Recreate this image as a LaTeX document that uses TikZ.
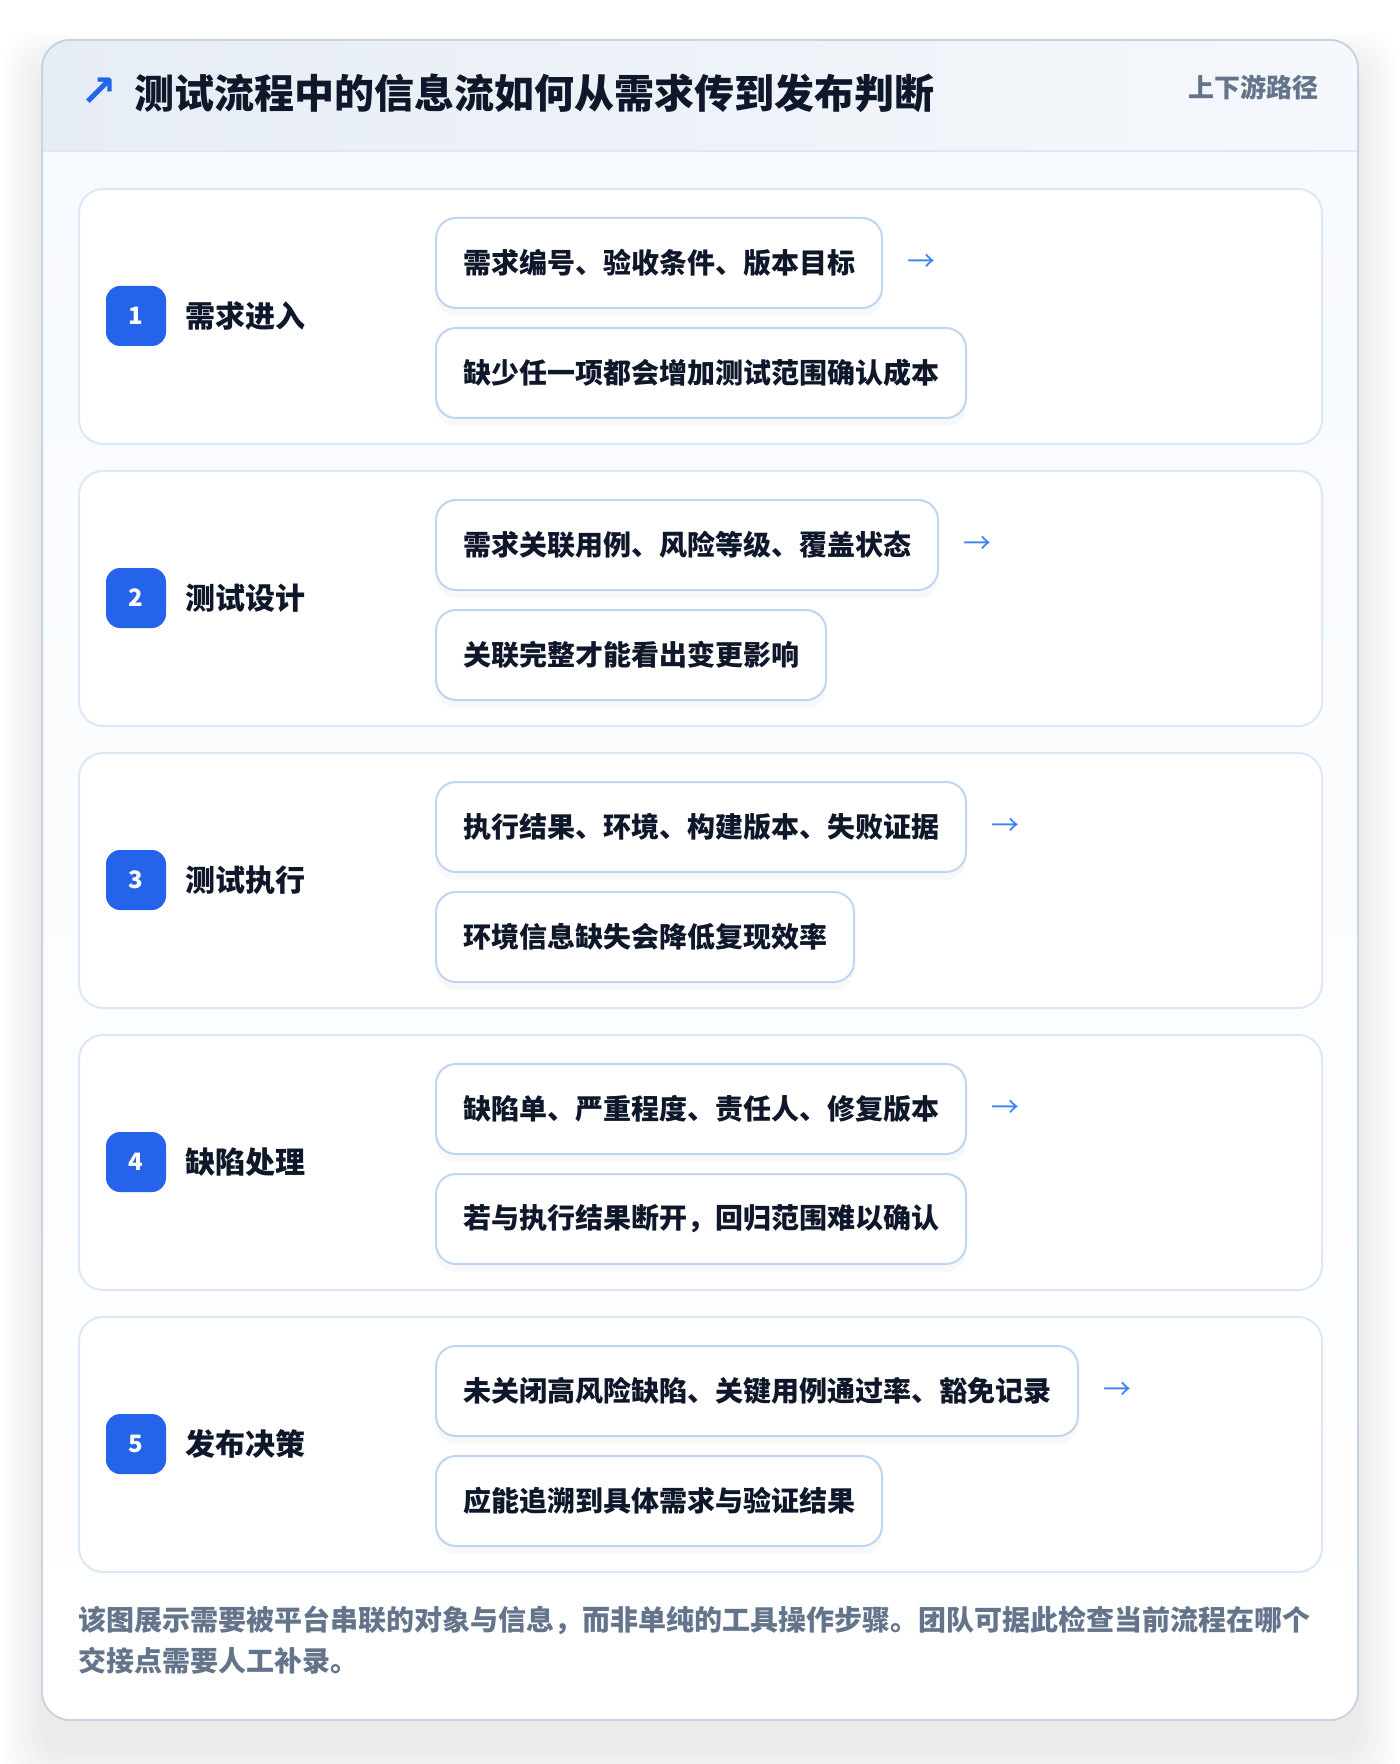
\documentclass[tikz,border=0pt]{standalone}
\usepackage{fontspec}
\setmainfont{Noto Sans CJK SC}
\newfontfamily\symfont{DejaVu Sans}
\usetikzlibrary{positioning,shadows}

\definecolor{ink}{HTML}{0F172A}
\definecolor{badgeblue}{HTML}{2563EB}
\definecolor{arrowblue}{HTML}{3B82F6}
\definecolor{mutedgray}{HTML}{64748B}
\definecolor{cardline}{HTML}{C9D4E2}
\definecolor{hdrleft}{HTML}{E7EDF5}
\definecolor{hdrright}{HTML}{F5F8FC}
\definecolor{hdrrule}{HTML}{DCE8F6}
\definecolor{bodybg}{HTML}{F7FAFE}
\definecolor{stepline}{HTML}{DCE8F8}
\definecolor{boxline}{HTML}{BFD6F3}

\begin{document}
\begin{tikzpicture}[x=0.5pt,y=0.5pt,yscale=-1,xscale=1,
  stepcard/.style={draw=stepline, line width=1pt, fill=white, rounded corners=12pt},
  badge/.style={fill=badgeblue, rounded corners=7pt, minimum size=30pt, inner sep=0pt,
    text=white, font=\bfseries\fontsize{12}{14}\selectfont},
  stagelabel/.style={anchor=west, inner sep=0pt, text=ink, font=\bfseries\fontsize{15}{18}\selectfont},
  infobox/.style={anchor=north west, draw=boxline, line width=1pt, fill=white, rounded corners=10pt,
    minimum height=45pt, inner xsep=13.5pt, inner ysep=0pt, text=ink,
    font=\bfseries\fontsize{14}{16}\selectfont,
    drop shadow={shadow xshift=0pt, shadow yshift=-4pt, opacity=0.05}},
  flowarrow/.style={inner sep=0pt, text=arrowblue, font=\fontsize{14}{16}\selectfont},
  foottext/.style={anchor=west, inner sep=0pt, text=mutedgray, font=\bfseries\fontsize{14}{20}\selectfont}]
\useasboundingbox (0,0) rectangle (1400,1764);
%Shadow of the outer card
\foreach \s in {1,...,20} {
  \fill[black, opacity=0.0035, rounded corners=16pt] ({42-2*\s},{70-2*\s}) rectangle ({1358+2*\s},{1750+2*\s});
}
%Shape: outer card
\fill[white, rounded corners=14pt] (42,40) rectangle (1358,1720);
\begin{scope}
  \clip[rounded corners=14pt] (42,40) rectangle (1358,1720);
  \shade[left color=hdrleft, right color=hdrright] (42,40) rectangle (1358,151);
  \shade[top color=bodybg, bottom color=white] (42,151) rectangle (1358,1720);
\end{scope}
\draw[hdrrule, line width=1pt] (42,151) -- (1358,151);
\draw[cardline, line width=1pt, rounded corners=14pt] (42,40) rectangle (1358,1720);
% Header texts
\node[inner sep=0pt, text=badgeblue, font=\symfont\bfseries\fontsize{22}{24}\selectfont] (titleicon) at (99,92) {↗};
\node[anchor=west, inner sep=0pt, text=ink, font=\bfseries\fontsize{20}{24}\selectfont] (title) at (134,93) {测试流程中的信息流如何从需求传到发布判断};
\node[anchor=east, inner sep=0pt, text=mutedgray, font=\bfseries\fontsize{13}{15}\selectfont] (tag) at (1319,87) {上下游路径};
% Stages
\foreach \n/\stagename/\needtext/\notetext in {
  1/需求进入/需求编号、验收条件、版本目标/缺少任一项都会增加测试范围确认成本,
  2/测试设计/需求关联用例、风险等级、覆盖状态/关联完整才能看出变更影响,
  3/测试执行/执行结果、环境、构建版本、失败证据/环境信息缺失会降低复现效率,
  4/缺陷处理/缺陷单、严重程度、责任人、修复版本/若与执行结果断开，回归范围难以确认,
  5/发布决策/未关闭高风险缺陷、关键用例通过率、豁免记录/应能追溯到具体需求与验证结果}
{
  \pgfmathsetmacro\rowtop{189+282*(\n-1)}
  %Shape: stage card
  \draw[stepcard] (79,\rowtop) rectangle (1322,{\rowtop+255});
  \node[badge] (badge\n) at (136,{\rowtop+127}) {\n};
  \node[stagelabel] (stage\n) at (185,{\rowtop+127}) {\stagename};
  \node[infobox] (need\n) at (435,{\rowtop+28}) {\needtext};
  \node[infobox] (note\n) at (435,{\rowtop+138}) {\notetext};
  \node[flowarrow, right=12pt of need\n] (arrow\n) {→};
}
% Footer text
\node[foottext] (footA) at (78,1620) {该图展示需要被平台串联的对象与信息，而非单纯的工具操作步骤。团队可据此检查当前流程在哪个};
\node[foottext] (footB) at (78,1661) {交接点需要人工补录。};
\end{tikzpicture}
\end{document}
